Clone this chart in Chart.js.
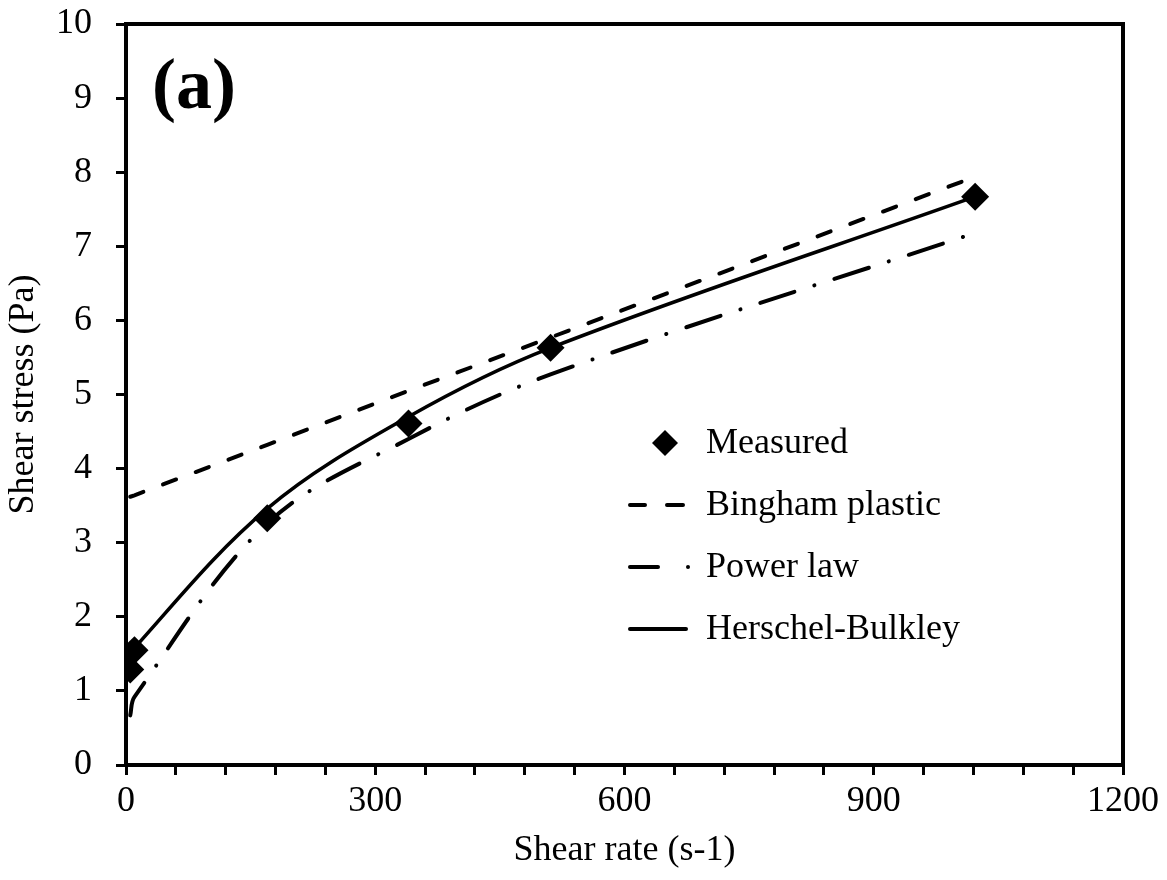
<!DOCTYPE html>
<html>
<head>
<meta charset="utf-8">
<script src="https://cdn.jsdelivr.net/npm/chart.js@4"></script>
<style>
  html, body { margin: 0; padding: 0; background: #fff; }
  #wrap { width: 1167px; height: 880px; }
</style>
</head>
<body>
<div id="wrap"><canvas id="c" width="1167" height="880"></canvas></div>
<script>
// shear rates (s-1) at the viscometer speeds
const shearRate = [5.1, 10.2, 170, 340, 511, 1022];

// measured shear stress (Pa)
const measured = [1.29, 1.55, 3.33, 4.61, 5.63, 7.67];

// model curves at the same shear rates
const bingham = [3.62, 3.64, 4.32, 5.05, 5.77, 7.94];
const powerLaw = [0.67, 0.92, 3.26, 4.40, 5.27, 7.18];
const herschel = [1.40, 1.58, 3.46, 4.70, 5.63, 7.67];

const seriesNames = ['Measured', 'Bingham plastic', 'Power law', 'Herschel-Bulkley'];

const xTickLabels = [0, 300, 600, 900, 1200];

function pts(ys) {
  return shearRate.map((x, i) => ({ x: x, y: ys[i] }));
}

const FONT = "'Liberation Serif', 'Times New Roman', serif";

// box round the plot, the "(a)" tag and the legend drawn inside the plot
const extras = {
  id: 'extras',
  afterDraw(chart) {
    const ctx = chart.ctx;
    const a = chart.chartArea;
    ctx.save();
    ctx.strokeStyle = '#000';
    ctx.lineWidth = 4;
    ctx.strokeRect(a.left, a.top, a.right - a.left, a.bottom - a.top);

    ctx.fillStyle = '#000';
    ctx.font = 'bold 72px ' + FONT;
    ctx.textBaseline = 'alphabetic';
    ctx.fillText('(a)', 152, 108);

    // legend
    const rows = [443, 505, 567, 629];
    const textX = 706;
    ctx.font = '36px ' + FONT;
    ctx.textBaseline = 'middle';
    ctx.lineCap = 'round';
    ctx.lineWidth = 4;

    // measured diamond
    let y = rows[0];
    ctx.beginPath();
    ctx.moveTo(665, y - 13);
    ctx.lineTo(678, y);
    ctx.lineTo(665, y + 13);
    ctx.lineTo(652, y);
    ctx.closePath();
    ctx.fill();

    // bingham dashes
    y = rows[1];
    ctx.beginPath();
    ctx.moveTo(630, y); ctx.lineTo(645, y);
    ctx.moveTo(667, y); ctx.lineTo(683, y);
    ctx.stroke();

    // power law dash + dot
    y = rows[2];
    ctx.beginPath();
    ctx.moveTo(630, y); ctx.lineTo(658, y);
    ctx.stroke();
    ctx.beginPath();
    ctx.arc(688, y, 2, 0, Math.PI * 2);
    ctx.fill();

    // herschel-bulkley solid
    y = rows[3];
    ctx.beginPath();
    ctx.moveTo(630, y); ctx.lineTo(686, y);
    ctx.stroke();

    seriesNames.forEach((t, i) => ctx.fillText(t, textX, rows[i] + 1));
    ctx.restore();
  }
};

new Chart(document.getElementById('c'), {
  type: 'scatter',
  data: {
    datasets: [
      {
        label: seriesNames[0],
        data: pts(measured),
        pointStyle: 'rectRot',
        pointRadius: 14,
        pointBackgroundColor: '#000',
        pointBorderColor: '#000',
        pointBorderWidth: 0,
        showLine: false
      },
      {
        label: seriesNames[1],
        data: pts(bingham),
        showLine: true,
        borderColor: '#000',
        borderWidth: 4,
        borderDash: [14, 21],
        borderCapStyle: 'round',
        pointRadius: 0,
        tension: 0
      },
      {
        label: seriesNames[2],
        data: pts(powerLaw),
        showLine: true,
        borderColor: '#000',
        borderWidth: 4,
        borderDash: [36, 21, 0.1, 21],
        borderCapStyle: 'round',
        pointRadius: 0,
        tension: 0.35
      },
      {
        label: seriesNames[3],
        data: pts(herschel),
        showLine: true,
        borderColor: '#000',
        borderWidth: 3.5,
        borderCapStyle: 'round',
        pointRadius: 0,
        tension: 0.35
      }
    ]
  },
  options: {
    responsive: false,
    animation: false,
    layout: { padding: { top: 24, right: 44, left: 0, bottom: 0 } },
    plugins: {
      legend: { display: false },
      tooltip: { enabled: false }
    },
    scales: {
      x: {
        type: 'linear',
        min: 0,
        max: 1200,
        afterFit(s) { s.height = 115; s.paddingLeft = 0; s.paddingRight = 0; },
        border: { display: false },
        grid: {
          drawOnChartArea: false,
          drawTicks: true,
          tickLength: 10,
          tickWidth: 3,
          tickColor: '#000'
        },
        ticks: {
          stepSize: 60,
          autoSkip: false,
          maxRotation: 0,
          padding: 5,
          color: '#000',
          font: { family: FONT, size: 36 },
          callback(v) { return xTickLabels.includes(v) ? String(v) : ''; }
        },
        title: {
          display: true,
          text: 'Shear rate (s-1)',
          color: '#000',
          font: { family: FONT, size: 36 },
          padding: { top: 0, bottom: 8 }
        }
      },
      y: {
        type: 'linear',
        min: 0,
        max: 10,
        afterFit(s) { s.width = 126; s.paddingTop = 0; s.paddingBottom = 0; },
        border: { display: false },
        grid: {
          drawOnChartArea: false,
          drawTicks: true,
          tickLength: 10,
          tickWidth: 3,
          tickColor: '#000'
        },
        ticks: {
          stepSize: 1,
          padding: 24,
          color: '#000',
          font: { family: FONT, size: 36 }
        },
        title: {
          display: true,
          text: 'Shear stress (Pa)',
          color: '#000',
          font: { family: FONT, size: 36 },
          padding: { top: 2, bottom: 0 }
        }
      }
    }
  },
  plugins: [extras]
});
</script>
</body>
</html>
